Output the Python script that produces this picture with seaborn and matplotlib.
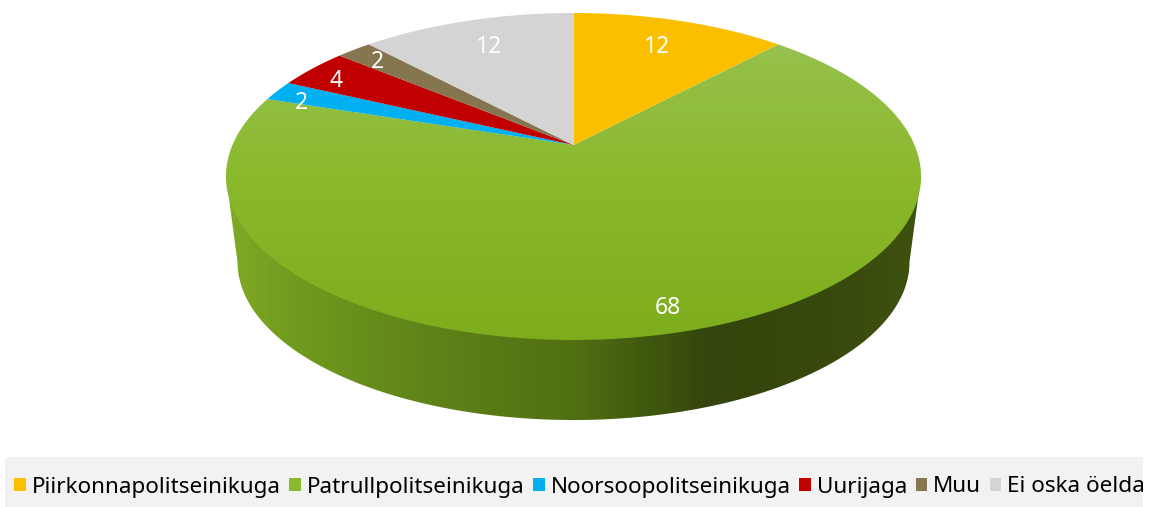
import numpy as np
import seaborn as sns
import matplotlib.pyplot as plt
from matplotlib.patches import Polygon, Patch, Rectangle
from matplotlib.colors import LinearSegmentedColormap

categories = ["Piirkonnapolitseinikuga", "Patrullpolitseinikuga", "Noorsoopolitseinikuga",
              "Uurijaga", "Muu", "Ei oska öelda"]
values = [12, 68, 2, 4, 2, 12]
colors = ["#fcbf00", "#8ab92d", "#00b0f0", "#c00000", "#857650", "#d4d4d4"]
label_radius = [0.76, 0.9, 0.9, 0.9, 0.9, 0.76]
label_nudge = [(0, 0), (3, -2), (-4, 7), (0, 5), (4, 4), (0, 0)]

sns.set_theme(style="white")
plt.rcParams["font.family"] = ["Noto Sans", "DejaVu Sans"]

# pie plane seen in perspective, pixel coords
cx, cy = 573.5, 145
A, B, k = 341, 157.4, 0.1927

def project(theta, r=1.0):
    u = r * np.sin(theta)
    v = r * np.cos(theta)
    w = 1 + k * v
    return cx + A * u / w, cy - B * v / w

def lower_rim(t):
    return 573.5 + 336 * np.cos(t), 262 + 158 * np.sin(t)

fig = plt.figure(figsize=(11.52, 5.07), dpi=100)
ax = fig.add_axes([0, 0, 1, 1])

# side wall with horizontal shading
t = np.linspace(0, np.pi, 300)
bx, by = lower_rim(t)
full = np.linspace(0, 2 * np.pi, 600)
fx, fy = project(full)
top_r = (fx.max(), fy[np.argmax(fx)])
top_l = (fx.min(), fy[np.argmin(fx)])
side_pts = np.r_[[top_r], np.c_[bx, by], [top_l]]
side_cmap = LinearSegmentedColormap.from_list("side", [
    (0.0, "#80aa25"), (0.1, "#6f9a1e"), (0.3, "#5e8218"), (0.5, "#517012"),
    (0.7, "#33440c"), (0.88, "#384a0e"), (1.0, "#3e520f")])
side_im = ax.imshow(np.linspace(0, 1, 512)[None, :], cmap=side_cmap, aspect="auto",
                    extent=[226, 921, 425, 170], zorder=1)
side_patch = Polygon(side_pts, closed=True, fc="none", ec="none", transform=ax.transData)
ax.add_patch(side_patch)
side_im.set_clip_path(side_patch)

# top face wedges
top_cmap = LinearSegmentedColormap.from_list("top", [
    (0.0, "#a0c660"), (0.15, "#94c048"), (0.5, "#8ab92d"), (1.0, "#7dac1c")])
edges = np.cumsum([0] + values) / sum(values) * 2 * np.pi
for i, (val, col) in enumerate(zip(values, colors)):
    a = np.linspace(edges[i], edges[i + 1], max(int(val * 6), 12))
    x, y = project(a)
    pts = np.r_[[[cx, cy]], np.c_[x, y]]
    if categories[i] == "Patrullpolitseinikuga":
        im = ax.imshow(np.linspace(0, 1, 512)[:, None], cmap=top_cmap, aspect="auto",
                       extent=[220, 925, 342, 13], zorder=2)
        wedge = Polygon(pts, closed=True, fc="none", ec="none", transform=ax.transData)
        ax.add_patch(wedge)
        im.set_clip_path(wedge)
    else:
        ax.add_patch(Polygon(pts, closed=True, fc=col, ec="none", zorder=3))

# value labels
for i, val in enumerate(values):
    lx, ly = project((edges[i] + edges[i + 1]) / 2, label_radius[i])
    ax.text(lx + label_nudge[i][0], ly + label_nudge[i][1], str(val), color="white",
            fontsize=16.5, ha="center", va="center", zorder=5)

ax.set_xlim(0, 1152)
ax.set_ylim(507, 0)
ax.axis("off")

# legend band
ax.add_patch(Rectangle((5, 457), 1138, 50, fc="#f2f2f2", ec="none", zorder=0))
handles = [Patch(fc=c, ec="none") for c in colors]
leg = ax.legend(handles, categories, ncol=6, loc="center left",
                bbox_to_anchor=(14, 487), bbox_transform=ax.transData,
                fontsize=16.2, frameon=False, handlelength=0.52, handleheight=0.52,
                handletextpad=0.26, borderpad=0, borderaxespad=0, columnspacing=0.38,
                labelcolor="black")

fig.savefig("out.png", dpi=100)
